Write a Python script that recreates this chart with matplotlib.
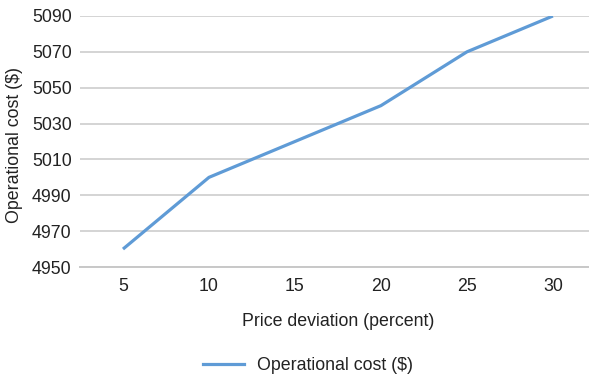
import matplotlib
matplotlib.use('Agg')
import matplotlib.pyplot as plt
from matplotlib.lines import Line2D

plt.rcParams['font.family'] = ['Liberation Sans', 'DejaVu Sans']

deviation = ['5', '10', '15', '20', '25', '30']
cost = [4960, 5000, 5020, 5040, 5070, 5090]
y_ticks = [4950, 4970, 4990, 5010, 5030, 5050, 5070, 5090]

line_color = '#5f9bd6'
grid_color = '#d4d4d4'
text_color = '#222222'
fs = 12.8

fig = plt.figure(figsize=(5.89, 3.74), dpi=100)
ax = fig.add_axes([80 / 589, 107 / 374, 509 / 589, 251 / 374])

x = list(range(len(deviation)))
ax.plot(x, cost, color=line_color, lw=2.3, solid_capstyle='butt',
        solid_joinstyle='round', zorder=3)

ax.set_xlim(-0.5, 5.42)
ax.set_ylim(4950, 5090)
ax.set_yticks(y_ticks)
ax.set_xticks(x)
ax.set_xticklabels(deviation)
ax.grid(axis='y', color=grid_color, lw=1.4)
ax.set_axisbelow(True)
for side in ['top', 'right', 'left']:
    ax.spines[side].set_visible(False)
ax.spines['bottom'].set_color('#c8c8c8')
ax.spines['bottom'].set_linewidth(1.4)
ax.tick_params(length=0, labelsize=fs, colors=text_color)
ax.tick_params(axis='x', pad=8)
ax.tick_params(axis='y', pad=6)

fig.text(15 / 589, 1 - 145 / 374, 'Operational cost ($)', rotation=90,
         ha='center', va='center', fontsize=fs, color=text_color)
fig.text(338 / 589, 1 - 322 / 374, 'Price deviation (percent)', ha='center',
         va='center', fontsize=fs, color=text_color)

handle = Line2D([], [], color=line_color, lw=2.3)
fig.legend([handle], ['Operational cost ($)'], loc='center',
           bbox_to_anchor=(308 / 589, 1 - 366 / 374), frameon=False,
           fontsize=fs, handlelength=2.3, handletextpad=0.7,
           labelcolor=text_color, borderpad=0)

fig.savefig('out.png', dpi=100)
